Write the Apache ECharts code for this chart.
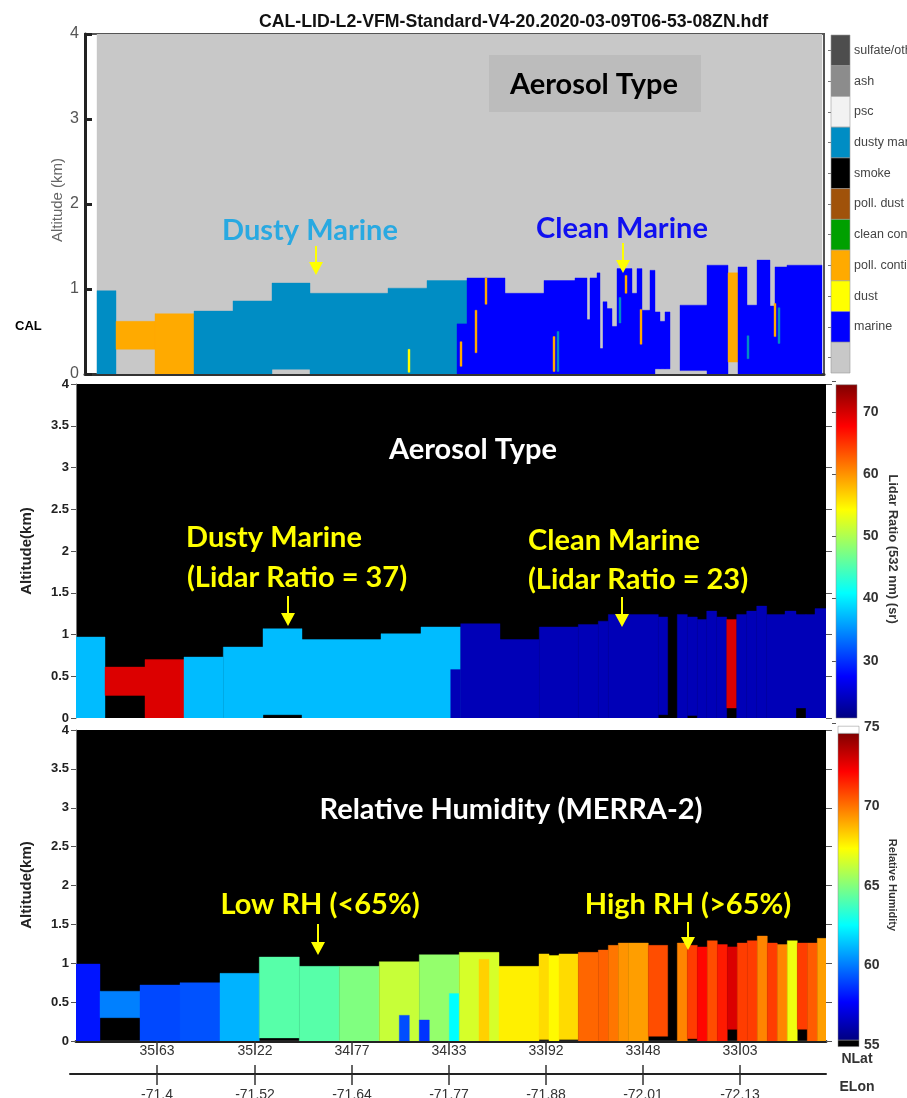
<!DOCTYPE html>
<html><head><meta charset="utf-8">
<script src="https://cdn.jsdelivr.net/npm/echarts@6/dist/echarts.min.js"></script>
<style>html,body{margin:0;padding:0;background:#fff}#c{width:907px;height:1098px}</style>
</head><body><div id="c"></div>
<script>
// ---------------- DATA ----------------
const fileTitle = 'CAL-LID-L2-VFM-Standard-V4-20.2020-03-09T06-53-08ZN.hdf';
const vfmTypes = ['sulfate/other','ash','psc','dusty marine','smoke','poll. dust','clean continental','poll. continental','dust','marine','clear air'];
const vfmTypeColors = ['#4d4d4d','#8c8c8c','#f2f2f2','#008dc4','#000000','#a0520a','#00a000','#ffaa00','#ffff00','#0000ff','#c8c8c8'];

// top panel (VFM): [profileStart, profileEnd, baseKm, topKm, type]
const vfmLayers = [
  [12,737,0,4,'clear air'],
  [12,31,0,0.98,'dusty marine'],
  [31,70,0.29,0.62,'poll. continental'],
  [70,109,0,0.71,'poll. continental'],
  [109,148,0,0.74,'dusty marine'],
  [148,187,0,0.86,'dusty marine'],
  [187,225,0.055,1.07,'dusty marine'],
  [225,303,0,0.95,'dusty marine'],
  [303,342,0,1.01,'dusty marine'],
  [342,382,0,1.10,'dusty marine'],
  [372,382,0,0.59,'marine'],
  [382,420,0,1.13,'marine'],
  [420,459,0,0.95,'marine'],
  [459,490,0,1.10,'marine'],
  [490,502,0,1.13,'marine'],
  [502,505,0,0.64,'marine'],
  [505,512,0,1.13,'marine'],
  [512,515,0,1.19,'marine'],
  [515,518,0,0.30,'marine'],
  [518,522,0,0.85,'marine'],
  [522,527,0,0.77,'marine'],
  [527,532,0,0.56,'marine'],
  [532,547,0,1.24,'marine'],
  [547,552,0,0.95,'marine'],
  [552,557,0,1.24,'marine'],
  [557,565,0,0.75,'marine'],
  [565,570,0,1.22,'marine'],
  [570,575,0.06,0.73,'marine'],
  [575,580,0.06,0.62,'marine'],
  [580,585,0.06,0.73,'marine'],
  [595,622,0.04,0.81,'marine'],
  [622,643,0,1.28,'marine'],
  [643,653,0.14,1.19,'poll. continental'],
  [653,662,0,1.26,'marine'],
  [662,672,0,0.81,'marine'],
  [672,685,0,1.34,'marine'],
  [685,690,0,0.80,'marine'],
  [690,702,0,1.26,'marine'],
  [702,737,0,1.28,'marine'],
  [323,325,0.02,0.29,'dust'],
  [375,377,0.09,0.38,'poll. continental'],
  [390,392,0.25,0.75,'poll. continental'],
  [400,402,0.82,1.13,'poll. continental'],
  [468,470,0.03,0.44,'poll. continental'],
  [472,474,0.03,0.50,'dusty marine'],
  [534,536,0.60,0.90,'dusty marine'],
  [540,542,0.95,1.16,'poll. continental'],
  [555,557,0.35,0.76,'poll. continental'],
  [662,664,0.18,0.45,'dusty marine'],
  [689,691,0.44,0.83,'poll. continental'],
  [693,695,0.36,0.78,'dusty marine']
];

// middle panel: lidar ratio (sr) -> [profileStart, profileEnd, baseKm, topKm, lidarRatio]
const lidarLayers = [
  [0,29,0,0.97,37],
  [29,69,0.27,0.61,70],
  [69,108,0,0.70,70],
  [108,147.3,0,0.73,37],
  [147.3,187,0,0.85,37],
  [187,226,0.04,1.07,37],
  [226,305,0,0.94,37],
  [305,345,0,1.01,37],
  [345,384.7,0,1.09,37],
  [374.7,384.7,0,0.58,23],
  [384.7,424,0,1.13,23],
  [424,463.3,0,0.94,23],
  [463.3,502.3,0,1.09,23],
  [502.3,522.3,0,1.12,23],
  [522.3,532.3,0,1.16,23],
  [532.3,582.3,0,1.24,23],
  [582.3,591.7,0.04,1.21,23],
  [601.3,611.3,0,1.24,23],
  [611.3,621.3,0.03,1.21,23],
  [621.3,630.7,0,1.18,23],
  [630.7,640.7,0,1.28,23],
  [640.7,650.7,0,1.21,23],
  [650.7,660.7,0.12,1.18,70],
  [660.7,670.7,0,1.24,23],
  [670.7,680.7,0,1.28,23],
  [680.7,690.7,0,1.34,23],
  [690.7,709,0,1.24,23],
  [709,720,0,1.28,23],
  [720,730,0.12,1.24,23],
  [730,739,0,1.24,23],
  [739,750,0,1.31,23]
];

// bottom panel: MERRA-2 RH (%) -> [profileStart, profileEnd, baseKm, topKm, RH]
const rhLayers = [
  [0,24,0,0.99,57.9],
  [24,64,0.30,0.64,60.0],
  [64,104,0,0.72,58.9],
  [104,144,0,0.75,59.1],
  [144,183.3,0,0.87,61.0],
  [183.3,223.3,0.04,1.08,64.2],
  [223.3,263.3,0,0.96,64.2],
  [263.3,303.3,0,0.96,65.0],
  [303.3,343.3,0,1.02,66.4],
  [323.3,333.3,0,0.33,59.0],
  [343.3,383.3,0,1.11,65.4],
  [343.3,353.3,0,0.27,58.5],
  [373.3,383.3,0,0.61,62.5],
  [383.3,423,0,1.14,66.7],
  [403,413,0,1.05,68.4],
  [423,463,0,0.96,67.8],
  [463,473,0.02,1.12,68.2],
  [473,483,0,1.10,67.6],
  [483,502.3,0.02,1.12,68.2],
  [502.3,522.3,0,1.14,70.5],
  [522.3,532.3,0,1.17,70.6],
  [532.3,542.3,0,1.23,70.2],
  [542.3,552.3,0,1.26,69.6],
  [552.3,572.3,0,1.26,69.4],
  [572.3,591.7,0.06,1.23,71.0],
  [601.3,611.3,0,1.26,69.9],
  [611.3,621.3,0.03,1.23,71.3],
  [621.3,631.3,0,1.21,72.4],
  [631.3,641.3,0,1.29,71.0],
  [641.3,651.3,0,1.24,72.0],
  [651.3,661.3,0.15,1.21,73.2],
  [661.3,671.3,0,1.26,71.3],
  [671.3,681.3,0,1.29,71.3],
  [681.3,691.3,0,1.35,69.9],
  [691.3,701.3,0,1.26,71.3],
  [701.3,711.3,-0.05,1.24,69.9],
  [711.3,721.3,0,1.29,67.2],
  [721.3,731.3,0.15,1.26,71.3],
  [731.3,741.3,0,1.26,70.7],
  [741.3,750,0,1.32,69.4]
];

const trackTicks = [81,179,276,373,470,567,664];
const nlatLabels = ['35.63','35.22','34.77','34.33','33.92','33.48','33.03'];
const elonLabels = ['-71.4','-71.52','-71.64','-71.77','-71.88','-72.01','-72.13'];
const lidarRange = [20,75];
const rhRange = [55,75];

// ---------------- RENDER ----------------
const JET = ['#000080','#0000ff','#0080ff','#00ffff','#80ff80','#ffff00','#ff8000','#ff0000','#800000'];
const JET_STOPS = JET.map((c,i)=>({offset:i/(JET.length-1), color:c}));
const FONT = "Lato, 'Open Sans', sans-serif";
const NARROW = "'Liberation Sans Narrow','Liberation Sans',Arial,sans-serif";
const SANS = "'Liberation Sans',Arial,sans-serif";

const chart = echarts.init(document.getElementById('c'), null, {renderer:'canvas', width:907, height:1098});

function segRender(useType){
  return function(params, api){
    const a = api.coord([api.value(0), api.value(3)]);
    const b = api.coord([api.value(1), api.value(2)]);
    const fill = useType ? vfmTypeColors[api.value(4)] : api.visual('color');
    return {type:'rect', shape:{x:a[0], y:a[1], width:b[0]-a[0], height:b[1]-a[1]},
      style:{fill:fill, stroke:fill, lineWidth:0.4}};
  };
}
function cbRender(params, api){
  const a = api.coord([0, api.value(1)]);
  const b = api.coord([1, api.value(0)]);
  const kind = api.value(2);
  const fill = kind === 0 ? {type:'linear', x:0, y:1, x2:0, y2:0, colorStops:JET_STOPS} : (kind === 1 ? '#000' : '#fff');
  return {type:'rect', shape:{x:a[0], y:a[1], width:b[0]-a[0], height:b[1]-a[1]}, style:{fill:fill, stroke:'#888', lineWidth:0.5}};
}
function legendRender(params, api){
  const c = api.coord([0, api.value(1)]);
  const w = api.size([1, 1]);
  return {type:'rect', shape:{x:c[0], y:c[1]-w[1]/2, width:w[0], height:w[1]},
    style:{fill:vfmTypeColors[api.value(2)], stroke:'#9a9a9a', lineWidth:0.6}};
}

const legendCats = vfmTypes.slice().reverse();
const legendData = vfmTypes.map((t,i)=>[0, legendCats.indexOf(t), i]);

function tickFmt(labels){
  return function(v){ const i = trackTicks.indexOf(v); return i >= 0 ? labels[i] : ''; };
}

function arrow(x, y0, y1){
  return {type:'group', z:100, children:[
    {type:'line', z:100, shape:{x1:x, y1:y0, x2:x, y2:y1-11}, style:{stroke:'#ffff00', lineWidth:2}},
    {type:'polygon', z:100, shape:{points:[[x-7,y1-13],[x+7,y1-13],[x,y1]]}, style:{fill:'#ffff00'}}
  ]};
}
function txt(x, y, s, size, color){
  return {type:'text', z:100, x:x, y:y, style:{text:s, fontSize:size, fontWeight:'bold', fontFamily:FONT, fill:color, align:'center', verticalAlign:'middle'}};
}

const altLabelStyle = {fontSize:13, color:'#222', fontWeight:'bold', fontFamily:SANS, margin:7};

const option = {
  animation:false,
  backgroundColor:'#fff',
  title:{text:fileTitle, left:254, top:8, textStyle:{fontSize:17.7, fontWeight:'bold', fontFamily:NARROW, color:'#111'}},
  grid:[
    {left:85, top:34, width:739, height:340, show:true, backgroundColor:'#fff', borderColor:'#555', borderWidth:2, outerBoundsMode:'none'},
    {left:76, top:384, width:750, height:334, show:true, backgroundColor:'#000', borderWidth:0, outerBoundsMode:'none'},
    {left:76, top:730, width:750, height:311, show:true, backgroundColor:'#000', borderWidth:0, outerBoundsMode:'none'},
    {left:831, top:35, width:19, height:338, outerBoundsMode:'none'},
    {left:836, top:381, width:21, height:342, outerBoundsMode:'none'},
    {left:838, top:727, width:21, height:318, outerBoundsMode:'none'},
    {left:70, top:1065, width:756, height:9, outerBoundsMode:'none'}
  ],
  xAxis:[
    {gridIndex:0, type:'value', min:0, max:739, axisLine:{show:true, lineStyle:{color:'#333', width:3}}, axisTick:{show:false}, axisLabel:{show:false}, splitLine:{show:false}},
    {gridIndex:1, type:'value', min:0, max:750, show:false},
    {gridIndex:2, type:'value', min:0, max:750, position:'bottom',
      axisLine:{show:true, lineStyle:{color:'#222', width:3}},
      axisTick:{show:true, customValues:trackTicks, length:13, lineStyle:{color:'#333', width:1.5}},
      axisLabel:{show:true, customValues:trackTicks, formatter:tickFmt(nlatLabels), margin:3, fontSize:14, color:'#333', fontFamily:NARROW},
      splitLine:{show:false}},
    {gridIndex:3, type:'value', min:0, max:1, show:false},
    {gridIndex:4, type:'value', min:0, max:1, show:false},
    {gridIndex:5, type:'value', min:0, max:1, show:false},
    {gridIndex:6, type:'value', min:-6, max:750, position:'bottom',
      axisLine:{show:true, lineStyle:{color:'#222', width:2}},
      axisTick:{show:true, customValues:trackTicks, length:11, lineStyle:{color:'#333', width:1.5}},
      axisLabel:{show:true, customValues:trackTicks, formatter:tickFmt(elonLabels), margin:14, fontSize:14, color:'#333', fontFamily:NARROW},
      splitLine:{show:true, lineStyle:{color:'#333', width:1.5}}}
  ],
  yAxis:[
    {gridIndex:0, type:'value', min:0, max:4, interval:1,
      axisLine:{show:true, lineStyle:{color:'#222', width:3}},
      axisTick:{show:true, inside:true, length:7, lineStyle:{color:'#222', width:3}},
      axisLabel:{fontSize:16, color:'#555', fontFamily:SANS, margin:6},
      splitLine:{show:false}},
    {gridIndex:1, type:'value', min:0, max:4, interval:0.5,
      axisLine:{show:true, lineStyle:{color:'#777', width:1}},
      axisTick:{show:true, length:5, lineStyle:{color:'#555'}},
      axisLabel:altLabelStyle, splitLine:{show:false}},
    {gridIndex:2, type:'value', min:0, max:4, interval:0.5,
      axisLine:{show:true, lineStyle:{color:'#777', width:1}},
      axisTick:{show:true, length:5, lineStyle:{color:'#555'}},
      axisLabel:altLabelStyle, splitLine:{show:false}},
    {gridIndex:3, type:'category', data:legendCats, position:'right',
      axisLine:{show:false}, axisTick:{show:true, inside:true, alignWithLabel:true, length:3, lineStyle:{color:'#777'}},
      axisLabel:{fontSize:12.5, color:'#444', fontFamily:SANS, margin:4, formatter:v=> v === 'clear air' ? '' : v}},
    {gridIndex:4, type:'value', min:lidarRange[0], max:lidarRange[1], interval:10, position:'right',
      axisLine:{show:false}, axisTick:{show:true, inside:true, length:4, lineStyle:{color:'#555'}},
      axisLabel:{fontSize:14, fontWeight:'bold', color:'#333', fontFamily:SANS, margin:6,
        formatter:v=> (v>=30 && v<=70) ? String(v) : ''},
      splitLine:{show:false}},
    {gridIndex:5, type:'value', min:rhRange[0], max:rhRange[1], interval:5, position:'right',
      axisLine:{show:false}, axisTick:{show:true, inside:false, length:4, lineStyle:{color:'#555'}},
      axisLabel:{fontSize:14, fontWeight:'bold', color:'#333', fontFamily:SANS, margin:5},
      splitLine:{show:false}},
    {gridIndex:1, type:'value', min:0, max:4, interval:0.5, position:'right',
      axisLine:{show:false}, axisTick:{show:true, length:6, lineStyle:{color:'#555'}}, axisLabel:{show:false}, splitLine:{show:false}},
    {gridIndex:2, type:'value', min:0, max:4, interval:0.5, position:'right',
      axisLine:{show:false}, axisTick:{show:true, length:6, lineStyle:{color:'#555'}}, axisLabel:{show:false}, splitLine:{show:false}},
    {gridIndex:6, type:'value', min:0, max:1, show:false}
  ],
  visualMap:[
    {type:'continuous', show:false, seriesIndex:1, dimension:4, min:lidarRange[0], max:lidarRange[1], inRange:{color:JET}},
    {type:'continuous', show:false, seriesIndex:2, dimension:4, min:rhRange[0], max:rhRange[1], inRange:{color:JET}}
  ],
  series:[
    {type:'custom', xAxisIndex:0, yAxisIndex:0, clip:true, renderItem:segRender(true), encode:{x:[0,1], y:[2,3]},
      data:vfmLayers.map(r=>[r[0],r[1],r[2],r[3],vfmTypes.indexOf(r[4])])},
    {type:'custom', xAxisIndex:1, yAxisIndex:1, clip:true, renderItem:segRender(false), encode:{x:[0,1], y:[2,3]}, data:lidarLayers},
    {type:'custom', xAxisIndex:2, yAxisIndex:2, clip:true, renderItem:segRender(false), encode:{x:[0,1], y:[2,3]}, data:rhLayers},
    {type:'custom', xAxisIndex:3, yAxisIndex:3, renderItem:legendRender, data:legendData},
    {type:'custom', xAxisIndex:4, yAxisIndex:4, renderItem:cbRender, data:[[20.8,74.4,0]]},
    {type:'custom', xAxisIndex:5, yAxisIndex:5, renderItem:cbRender, data:[[55.3,74.6,0],[54.9,55.3,1],[74.6,75.05,2]]}
  ],
  graphic:[
    {type:'rect', z:90, shape:{x:489, y:55, width:212, height:57}, style:{fill:'#bcbcbc'}},
    txt(594, 85, 'Aerosol Type', 29, '#000'),
    txt(310, 231, 'Dusty Marine', 29, '#29a9e1'),
    txt(622, 229, 'Clean Marine', 29, '#1010f0'),
    arrow(316, 246, 275),
    arrow(623, 243, 273),
    {type:'text', z:100, x:15, y:326, style:{text:'CAL', fontSize:13, fontWeight:'bold', fontFamily:SANS, fill:'#000', verticalAlign:'middle'}},
    {type:'text', z:100, x:58, y:200, rotation:Math.PI/2, style:{text:'Altitude (km)', fontSize:15, fontFamily:SANS, fill:'#666', align:'center', verticalAlign:'middle'}},
    txt(473, 450, 'Aerosol Type', 29, '#fff'),
    txt(274, 538, 'Dusty Marine', 29, '#ffff00'),
    txt(297, 578, '(Lidar Ratio = 37)', 29, '#ffff00'),
    txt(614, 541, 'Clean Marine', 29, '#ffff00'),
    txt(638, 580, '(Lidar Ratio = 23)', 29, '#ffff00'),
    arrow(288, 596, 626),
    arrow(622, 597, 627),
    {type:'text', z:100, x:27, y:551, rotation:Math.PI/2, style:{text:'Altitude(km)', fontSize:15, fontWeight:'bold', fontFamily:SANS, fill:'#222', align:'center', verticalAlign:'middle'}},
    {type:'text', z:100, x:893, y:549, rotation:-Math.PI/2, style:{text:'Lidar Ratio (532 nm) (sr)', fontSize:13, fontWeight:'bold', fontFamily:SANS, fill:'#333', align:'center', verticalAlign:'middle'}},
    txt(511, 810, 'Relative Humidity (MERRA-2)', 29, '#fff'),
    txt(320, 905, 'Low RH (<65%)', 29, '#ffff00'),
    txt(688, 905, 'High RH (>65%)', 29, '#ffff00'),
    arrow(318, 924, 955),
    arrow(688, 922, 950),
    {type:'text', z:100, x:27, y:885, rotation:Math.PI/2, style:{text:'Altitude(km)', fontSize:15, fontWeight:'bold', fontFamily:SANS, fill:'#222', align:'center', verticalAlign:'middle'}},
    {type:'text', z:100, x:892, y:885, rotation:-Math.PI/2, style:{text:'Relative Humidity', fontSize:11, fontWeight:'bold', fontFamily:SANS, fill:'#333', align:'center', verticalAlign:'middle'}},
    {type:'text', z:100, x:857, y:1059, style:{text:'NLat', fontSize:14, fontWeight:'bold', fontFamily:NARROW, fill:'#333', align:'center', verticalAlign:'middle'}},
    {type:'text', z:100, x:857, y:1087, style:{text:'ELon', fontSize:14, fontWeight:'bold', fontFamily:NARROW, fill:'#333', align:'center', verticalAlign:'middle'}}
  ]
};
chart.setOption(option);
</script></body></html>
